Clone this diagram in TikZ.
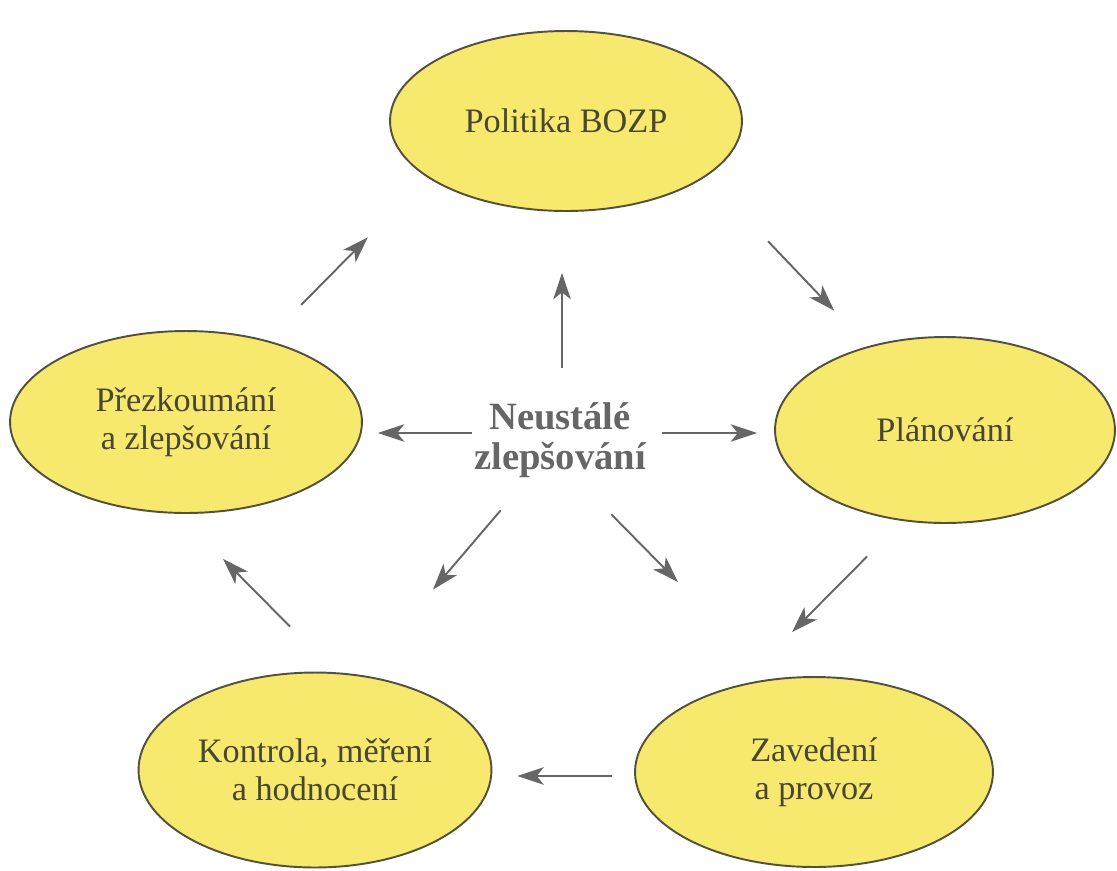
\documentclass[tikz,border=0pt]{standalone}
\usepackage{fontspec}
\setmainfont{Liberation Serif}
\usepackage{tikz}
\usetikzlibrary{shapes.geometric, arrows.meta}
\definecolor{phasefill}{HTML}{F6E96E}
\definecolor{phaseline}{HTML}{55503C}
\definecolor{phasetext}{HTML}{4A4632}
\definecolor{flowgray}{HTML}{666666}
\tikzset{
>={Stealth[length=15pt,width=10pt,inset=4pt]}, % filled arrow heads
phase/.style={ellipse, draw=phaseline, line width=1.1pt, fill=phasefill, text=phasetext,
  minimum width=7.04cm, minimum height=3.7cm, align=center,
  font=\fontsize{19.5}{21.5}\selectfont}, % the yellow ellipses
core/.style={inner sep=0pt, minimum width=3.8cm, minimum height=2cm, align=center,
  text=flowgray, font=\bfseries\fontsize{22}{23}\selectfont}, % text in the middle
flow/.style={->, draw=flowgray, fill=flowgray, line width=1.1pt}, % the grey arrows
}

\begin{document}
\begin{tikzpicture}[x=0.02cm, y=-0.02cm] % one unit is one pixel
        \useasboundingbox (0,0) rectangle (1117,870);

        \node[phase, minimum height=3.6cm] (pol) at (566,121) {Politika BOZP};
        \node[phase, minimum height=3.64cm] (pre) at (186,422) {Přezkoumání\\a zlepšování};
        \node[phase, minimum width=6.8cm, minimum height=3.72cm] (pla) at (945,430) {Plánování};
        \node[phase, minimum width=7.06cm, minimum height=3.9cm] (kon) at (315,770) {Kontrola, měření\\a hodnocení};
        \node[phase, minimum width=7.16cm, minimum height=3.8cm] (zav) at (814,772) {Zavedení\\a provoz};
        \node[core] (neu) at (560,440) {Neustálé\\zlepšování};

        % from the middle outwards
        \draw[flow] ([shift={(2,-22)}]neu.north) -- ([shift={(-4,61)}]pol.south);
        \draw[flow] ([shift={(7,-7)}]neu.west) -- ([shift={(15,11)}]pre.east);
        \draw[flow] ([shift={(7,-7)}]neu.east) -- ([shift={(-17,3)}]pla.west);
        \draw[flow] ([shift={(36,20)}]neu.south west) -- ([shift={(118,-82)}]kon.north);
        \draw[flow] ([shift={(-44,24)}]neu.south east) -- ([shift={(-136,-94)}]zav.north);

        % the cycle
        \draw[flow] ([shift={(77,56)}]pol.south east) -- ([shift={(10,-53)}]pla.north west);
        \draw[flow] ([shift={(43,60)}]pla.south west) -- ([shift={(-22,-44)}]zav.north);
        \draw[flow] ([shift={(-22,4)}]zav.west) -- ([shift={(25,6)}]kon.east);
        \draw[flow] ([shift={(-25,-45)}]kon.north) -- ([shift={(37,45)}]pre.south);
        \draw[flow] ([shift={(-10,-52)}]pre.north east) -- ([shift={(-73,52)}]pol.south west);
    \end{tikzpicture}
\end{document}
